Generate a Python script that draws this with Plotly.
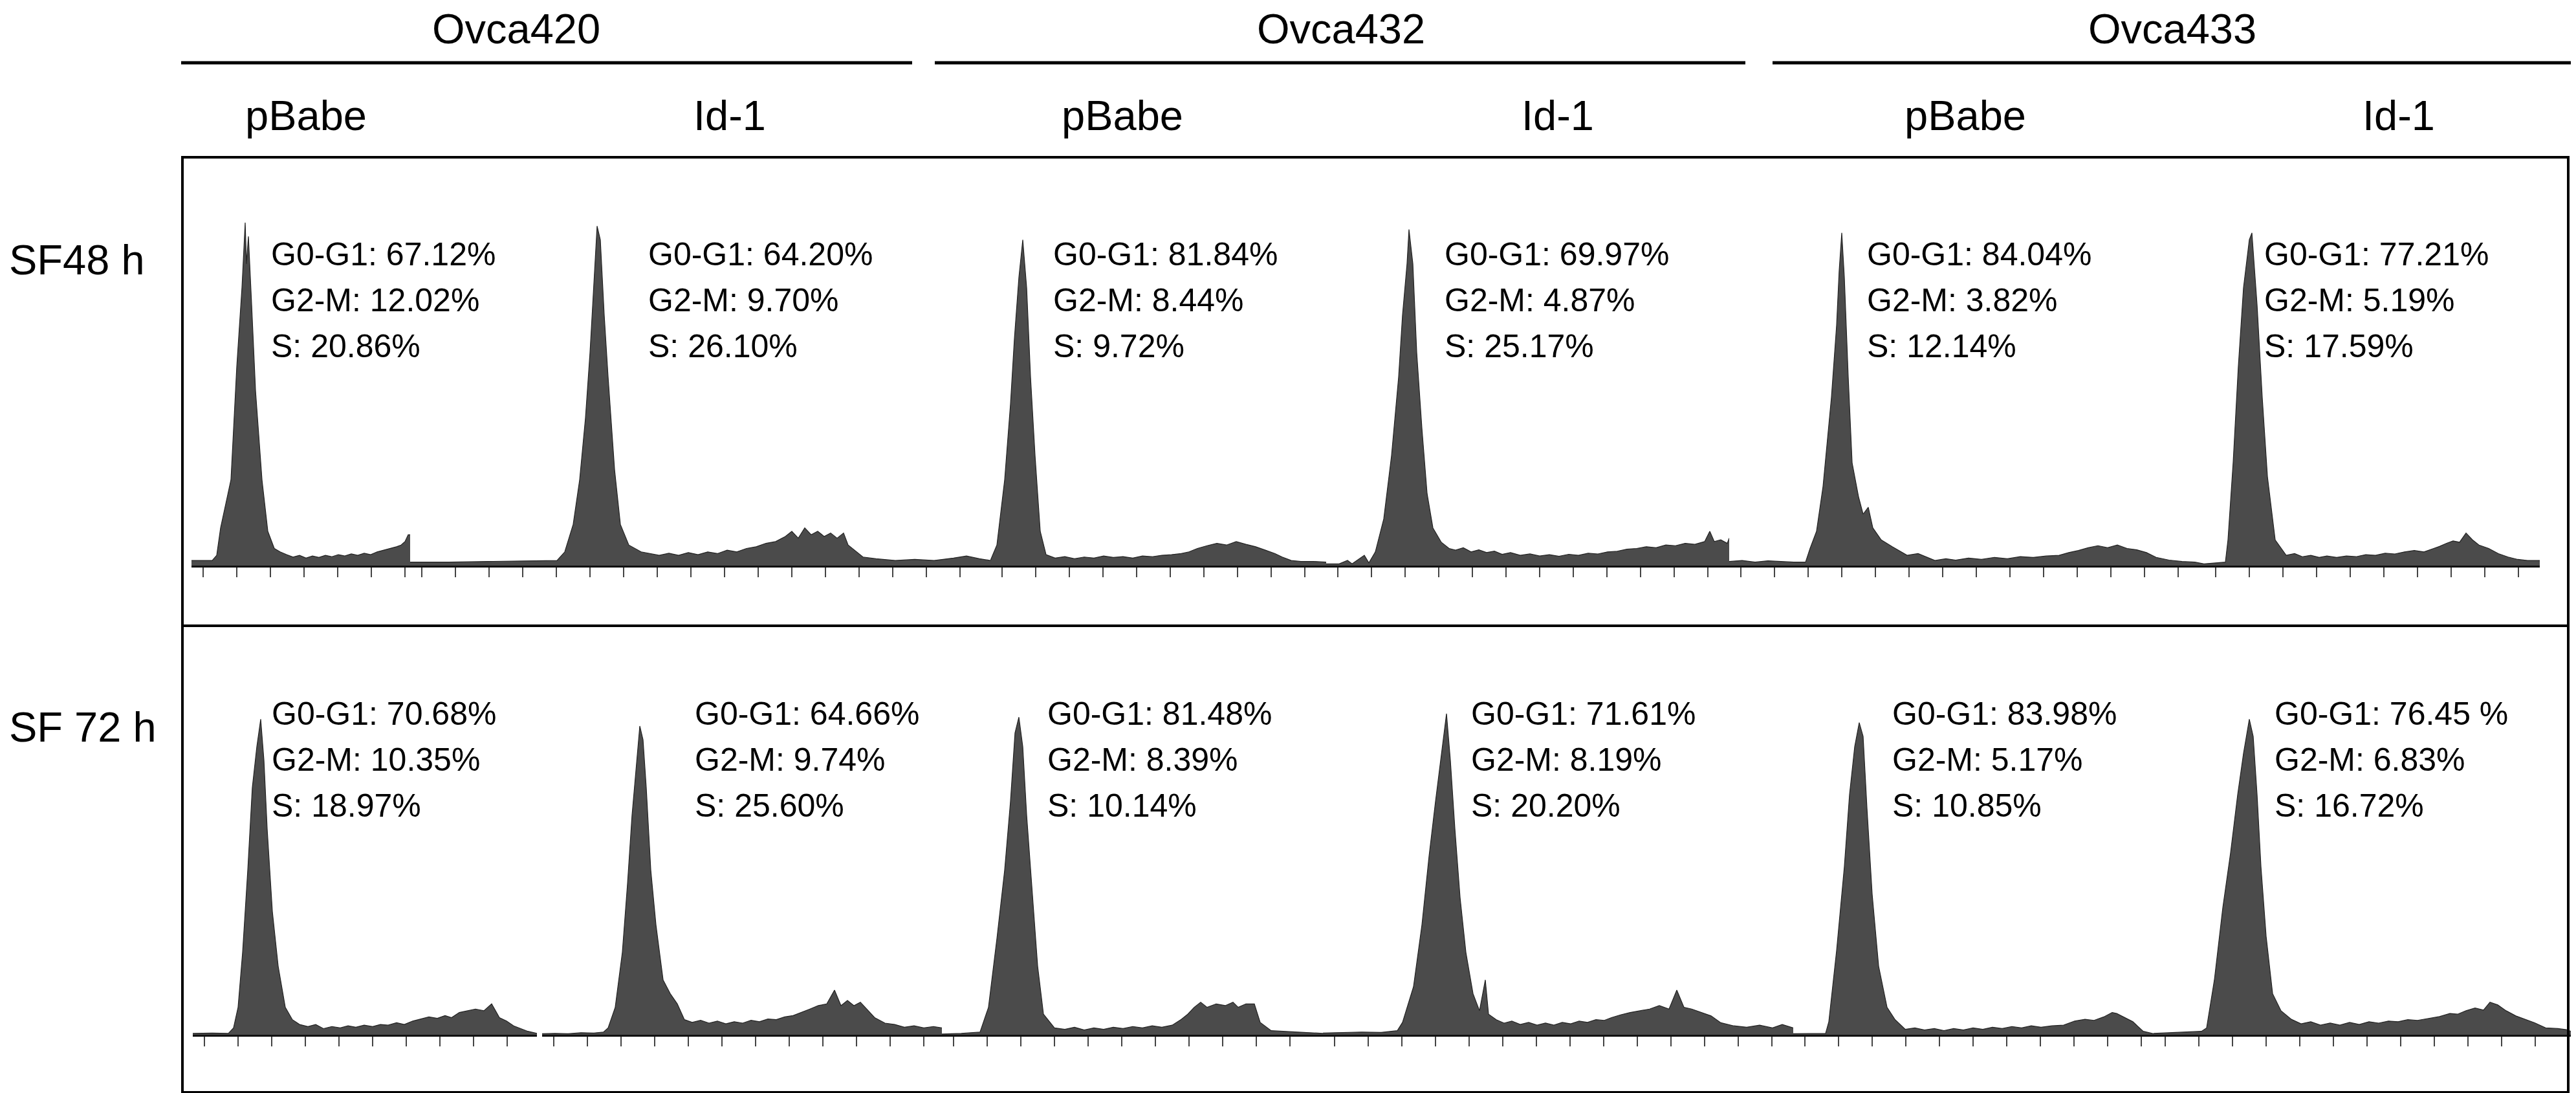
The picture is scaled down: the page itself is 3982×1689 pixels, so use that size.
import plotly.graph_objects as go

# ---------------- data (DNA-content channel vs. relative cell count) ----------------
cell_lines = ["Ovca420", "Ovca432", "Ovca433"]
constructs = ["pBabe", "Id-1"]
time_points = ["SF48 h", "SF 72 h"]

# phase percentages, order: Ovca420 pBabe, Ovca420 Id-1, Ovca432 pBabe, Ovca432 Id-1, Ovca433 pBabe, Ovca433 Id-1
g0g1_48 = ["67.12%", "64.20%", "81.84%", "69.97%", "84.04%", "77.21%"]
g2m_48 = ["12.02%", "9.70%", "8.44%", "4.87%", "3.82%", "5.19%"]
s_48 = ["20.86%", "26.10%", "9.72%", "25.17%", "12.14%", "17.59%"]
g0g1_72 = ["70.68%", "64.66%", "81.48%", "71.61%", "83.98%", "76.45 %"]
g2m_72 = ["10.35%", "9.74%", "8.39%", "8.19%", "5.17%", "6.83%"]
s_72 = ["18.97%", "25.60%", "10.14%", "20.20%", "10.85%", "16.72%"]

# histograms, 48 h
h420_pb_48_ch = [0, 32, 39, 45, 61, 70, 78, 81, 83, 85, 88, 93, 99, 109, 118, 128, 137, 147, 157, 167, 177, 187, 197, 207, 217,
                 227, 237, 247, 257, 267, 277, 287, 297, 307, 317, 324, 330, 335, 338]
h420_pb_48_ct = [1.5, 1.5, 3, 11, 25, 58, 81, 92, 100, 88, 96, 76, 51, 25, 10, 5, 4, 3.2, 2.5, 3, 2.2, 2.8, 2.4, 3, 2.6,
                 3.2, 2.8, 3.4, 3, 3.6, 3.2, 4, 4.5, 5, 5.5, 6, 7, 9, 9]

h420_id_48_ch = [0, 60, 120, 180, 224, 227, 239, 252, 262, 271, 278, 284, 289, 294, 300, 306, 316, 325, 338, 357, 370, 385,
                 400, 415, 430, 445, 460, 475, 490, 505, 520, 535, 550, 565, 580, 590, 600, 610, 620, 630, 640, 650, 660,
                 670, 677, 690, 700, 720, 750, 780, 810, 840, 860, 880, 897]
h420_id_48_ct = [1, 1, 1.2, 1.3, 1.5, 1.5, 4, 12, 25, 43, 62, 81, 99, 95, 73, 55, 28, 12, 6, 4, 3.5, 3,
                 3.6, 3, 3.8, 3.2, 4, 3.5, 4.5, 4, 5, 5.5, 6.5, 7, 8.5, 10, 8, 11, 9, 10, 8.5, 9.5, 8,
                 9.5, 6, 4, 2.5, 2, 1.5, 1.8, 1.5, 2.2, 2.8, 2, 1.5]

h432_pb_48_ch = [0, 10, 22, 31, 37, 44, 50, 56, 62, 69, 77, 86, 100, 115, 130, 145, 160, 175, 190, 205, 220, 235, 250, 265,
                 280, 295, 307, 320, 335, 350, 365, 380, 395, 410, 425, 440, 451, 465, 480, 500, 519]
h432_pb_48_ct = [1.5, 6, 25, 47, 66, 84, 95, 81, 55, 32, 10, 3.2, 2.2, 2.6, 2, 2.5, 2.2, 2.8, 2.4, 2.6, 2.2, 2.8, 2.6, 3,
                 3.2, 3.5, 4, 5, 5.8, 6.5, 6, 7, 6.2, 5.5, 4.5, 3.5, 2.5, 1.5, 1.2, 1.2, 1]

h432_id_48_ch = [0, 20, 33, 40, 59, 66, 76, 89, 101, 112, 118, 125, 128, 134, 140, 148, 156, 165, 178, 190, 200, 212, 224,
                 236, 248, 260, 272, 285, 300, 315, 330, 345, 360, 375, 390, 405, 420, 435, 450, 465, 480, 495, 510, 525,
                 540, 555, 570, 585, 593, 600, 610, 620, 623]
h432_id_48_ct = [0.5, 0.5, 1.5, 0.5, 3, 0.8, 4, 13.6, 32, 55, 73, 88, 98, 88, 62, 40, 21, 11, 6.8, 5, 4.5, 5.2, 4,
                 4.6, 3.8, 4.2, 3.3, 3.8, 3, 3.4, 2.8, 3.2, 2.7, 3.3, 3, 3.6, 3.4, 4, 4.2, 4.8, 5, 5.5, 5.2, 6,
                 5.8, 6.5, 6.2, 7, 10, 7, 7.5, 6.5, 8]

h433_pb_48_ch = [0, 20, 40, 60, 80, 100, 118, 125, 135, 145, 158, 166, 170, 174, 178, 184, 190, 200, 207, 215, 222, 235,
                 252, 275, 292, 318, 335, 350, 370, 390, 410, 430, 450, 470, 490, 510, 525, 540, 555, 570, 585, 600,
                 615, 630, 645, 660, 680, 700, 720, 734]
h433_pb_48_ct = [1.2, 1.5, 1, 1.4, 1.2, 1, 1, 5, 10, 23, 49, 70, 86, 97, 84, 55, 30, 20, 15, 17, 11, 7.5,
                 5.5, 3, 3.5, 1.5, 2, 1.6, 2.2, 1.8, 2.4, 2, 2.6, 2.4, 2.8, 3, 3.8, 4.4, 5.2, 5.8, 5.2, 6,
                 5, 4.6, 3.8, 2.4, 1.6, 1.2, 1, 0.5]

h433_id_48_ch = [0, 20, 33, 37, 45, 53, 61, 70, 74, 82, 90, 98, 110, 127, 140, 152, 165, 178, 190, 205, 220, 235, 250,
                 265, 280, 295, 310, 325, 340, 355, 364, 375, 385, 395, 405, 415, 425, 440, 455, 470, 485, 500, 519]
h433_id_48_ct = [0.5, 0.8, 1, 7.5, 30, 58, 81, 95, 97, 76, 49, 26, 7.5, 3, 3.5, 2.6, 3, 2.4, 2.8, 2.4, 2.8, 2.6, 3.2,
                 3, 3.6, 3.4, 4, 4.4, 4, 5, 5.6, 6.5, 7.2, 6.8, 9.5, 7.5, 6, 5, 3.5, 2.5, 1.8, 1.5, 1.5]

# histograms, 72 h
h420_pb_72_ch = [0, 30, 55, 63, 70, 77, 85, 92, 99, 105, 110, 115, 123, 132, 143, 154, 165, 178, 190, 202, 215, 228, 240,
                 252, 265, 278, 290, 302, 315, 327, 340, 352, 365, 378, 390, 400, 412, 425, 437, 450, 462, 474, 485,
                 496, 510, 518, 532]
h420_pb_72_ct = [0.4, 0.5, 0.4, 2, 8, 24, 48, 72, 84, 92, 80, 60, 36, 20, 8, 4.4, 3, 2.4, 3, 1.8, 2.4, 2, 2.6,
                 2.2, 2.8, 2.4, 3, 2.8, 3.5, 3, 4, 4.6, 5.2, 4.8, 5.6, 5, 6.5, 7, 7.5, 7, 9, 5, 4,
                 2.6, 1.5, 1, 0.4]

h420_id_72_ch = [0, 20, 40, 60, 80, 95, 102, 113, 124, 132, 139, 146, 151, 156, 161, 168, 176, 187, 198, 209, 220, 232,
                 245, 258, 271, 284, 297, 310, 323, 336, 349, 362, 375, 388, 401, 414, 427, 440, 452, 462, 472, 482,
                 492, 502, 514, 530, 545, 560, 575, 590, 605, 618]
h420_id_72_ct = [0.3, 0.4, 0.3, 0.6, 0.5, 0.8, 2, 8, 24, 44, 64, 80, 90, 86, 72, 48, 32, 16, 12, 9, 4.4, 3.6,
                 4.2, 3.4, 4, 3.2, 3.8, 3.4, 4.2, 3.8, 4.6, 4.4, 5.2, 5.6, 6.5, 7.5, 8.5, 9, 13, 8.5, 10, 8.5,
                 9.5, 7.5, 5, 3.4, 3, 2.2, 2.6, 2, 2.4, 2]

h432_pb_72_ch = [0, 30, 59, 72, 85, 97, 106, 113, 119, 125, 131, 140, 148, 157, 174, 190, 205, 220, 235, 250, 265, 280,
                 295, 310, 325, 340, 356, 370, 380, 390, 400, 410, 424, 438, 450, 458, 470, 483, 492, 509, 530, 555,
                 575, 589]
h432_pb_72_ct = [0.2, 0.4, 0.8, 8, 28, 48, 68, 88, 92.6, 84, 64, 40, 20, 6, 2, 1.6, 2.2, 1.4, 2, 1.6, 2.2, 1.8,
                 2.4, 2, 2.6, 2.2, 2.8, 4.5, 6, 8, 9.5, 8, 9, 8.5, 9.5, 8, 9, 9, 3.6, 1.2, 1, 0.8,
                 0.6, 0.4]

h432_id_72_ch = [0, 30, 60, 90, 115, 123, 140, 153, 164, 174, 185, 191, 197, 204, 212, 221, 232, 242, 251, 256, 268,
                 280, 292, 305, 318, 331, 344, 357, 370, 383, 396, 409, 422, 435, 446, 460, 475, 490, 505, 520, 535,
                 547, 558, 570, 585, 600, 615, 635, 655, 675, 695, 710, 727]
h432_id_72_ct = [0.5, 0.6, 0.8, 0.7, 1.2, 3.6, 14, 32, 52, 68, 84, 93.6, 80, 60, 40, 24, 12, 7, 16, 6, 4.4,
                 3.4, 4, 3, 3.6, 2.8, 3.4, 2.8, 3.6, 3.2, 4, 3.6, 4.4, 4.2, 5, 5.8, 6.5, 7, 7.5, 8.5, 7.5,
                 13, 8, 7.5, 6.5, 5.5, 3.5, 2.6, 2.2, 2.8, 2, 3, 2]

h433_pb_72_ch = [0, 30, 50, 55, 67, 79, 87, 95, 102, 108, 114, 122, 132, 145, 157, 173, 188, 203, 218, 233, 248, 263,
                 278, 293, 308, 323, 338, 353, 368, 383, 400, 418, 435, 451, 465, 480, 493, 500, 512, 525, 541, 557]
h433_pb_72_ct = [0.3, 0.3, 0.4, 3.8, 24.5, 49, 70, 84, 91, 87, 66, 41, 20, 8, 4.5, 1.6, 2, 1.4, 1.8, 1.2, 1.8, 1.4,
                 2, 1.6, 2.2, 1.8, 2.4, 2, 2.6, 2.2, 2.6, 2.8, 4, 4.5, 4.2, 5.2, 6.5, 6.2, 5, 3.8, 1, 0.3]

h433_id_72_ch = [0, 25, 50, 74, 82, 94, 107, 119, 130, 139, 148, 154, 160, 166, 174, 184, 197, 213, 228, 243, 258, 273,
                 288, 303, 318, 333, 348, 363, 378, 393, 408, 425, 442, 458, 470, 483, 497, 510, 520, 532, 545, 560,
                 575, 589, 606, 625, 638, 645]
h433_id_72_ct = [0.4, 0.6, 0.8, 1, 2, 16, 37, 53, 70, 82, 92, 87, 70, 49, 28.7, 12, 7, 4.5, 3.2, 3.8, 2.8, 3.4,
                 2.8, 3.6, 3, 3.8, 3.4, 4, 3.8, 4.4, 4.2, 4.8, 5.3, 6.2, 6, 7, 7.8, 7.2, 9.5, 8.7, 7, 5.5,
                 4.5, 3.5, 2, 1.8, 1.5, 1]

hist_48 = [(h420_pb_48_ch, h420_pb_48_ct), (h420_id_48_ch, h420_id_48_ct), (h432_pb_48_ch, h432_pb_48_ct),
           (h432_id_48_ch, h432_id_48_ct), (h433_pb_48_ch, h433_pb_48_ct), (h433_id_48_ch, h433_id_48_ct)]
hist_72 = [(h420_pb_72_ch, h420_pb_72_ct), (h420_id_72_ch, h420_id_72_ct), (h432_pb_72_ch, h432_pb_72_ct),
           (h432_id_72_ch, h432_id_72_ct), (h433_pb_72_ch, h433_pb_72_ct), (h433_id_72_ch, h433_id_72_ct)]

# ---------------- layout geometry (pixels of the 3982 x 1689 page) ----------------
W, H = 3982, 1689
def px(x): return x / W
def py(y): return 1 - y / H

panel_x_48 = [(288, 626), (626, 1523), (1523, 2042), (2042, 2665), (2665, 3399), (3399, 3918)]
panel_x_72 = [(290, 822), (830, 1448), (1448, 2037), (2037, 2764), (2764, 3321), (3321, 3966)]
row_base = [866, 1591]
row_height = 530
text_x_48 = [409, 992, 1618, 2223, 2876, 3490]
text_x_72 = [410, 1064, 1609, 2264, 2915, 3506]
text_y0 = [385, 1095]
line_gap = 71

FONT = "Liberation Sans, Arial, Helvetica, sans-serif"
FILL = "#4b4b4b"

fig = go.Figure()
layout = dict(width=W, height=H, margin=dict(l=0, r=0, t=0, b=0), paper_bgcolor="white",
              plot_bgcolor="rgba(0,0,0,0)", showlegend=False)

k = 0
for r, (hists, spans) in enumerate([(hist_48, panel_x_48), (hist_72, panel_x_72)]):
    for (ch, ct), (x0, x1) in zip(hists, spans):
        k += 1
        xa = "x" if k == 1 else f"x{k}"
        ya = "y" if k == 1 else f"y{k}"
        fig.add_trace(go.Scatter(x=ch, y=ct, xaxis=xa, yaxis=ya, mode="lines",
                                 line=dict(color="#222222", width=1.2), fill="tozeroy",
                                 fillcolor=FILL, hoverinfo="skip"))
        base = row_base[r]
        layout["xaxis" if k == 1 else f"xaxis{k}"] = dict(
            domain=[px(x0), px(x1)], range=[0, x1 - x0], anchor=ya,
            showgrid=False, zeroline=False, showline=True, linecolor="#111111", linewidth=3,
            ticks="outside", ticklen=15, tickwidth=1.5, tickcolor="#444444",
            tick0=18, dtick=52, showticklabels=False, fixedrange=True)
        layout["yaxis" if k == 1 else f"yaxis{k}"] = dict(
            domain=[py(base), py(base - row_height)], range=[0, 100], anchor=xa,
            visible=False, fixedrange=True)

fig.update_layout(**layout)

# frame, divider and header rules
shapes = [
    dict(type="rect", xref="paper", yref="paper", x0=px(274), x1=px(3962), y0=py(1680), y1=py(235),
         line=dict(color="black", width=4)),
    dict(type="line", xref="paper", yref="paper", x0=px(274), x1=px(3962), y0=py(959), y1=py(959),
         line=dict(color="black", width=4)),
]
for a, b in [(272, 1402), (1437, 2690), (2732, 3975)]:
    shapes.append(dict(type="line", xref="paper", yref="paper", x0=px(a), x1=px(b), y0=py(89), y1=py(89),
                       line=dict(color="black", width=5)))
fig.update_layout(shapes=shapes)

ann = []
for name, cx in zip(cell_lines, [790, 2065, 3350]):
    ann.append(dict(x=px(cx), y=py(36), text=name, xanchor="center", yanchor="middle"))
for i, cx in enumerate([465, 1120, 1727, 2400, 3030, 3700]):
    ann.append(dict(x=px(cx), y=py(170), text=constructs[i % 2], xanchor="center", yanchor="middle"))
for lab, yy in zip(time_points, [394, 1115]):
    ann.append(dict(x=px(4), y=py(yy), text=lab, xanchor="left", yanchor="middle"))
header = [dict(a, xref="paper", yref="paper", showarrow=False, font=dict(family=FONT, size=65, color="black"))
          for a in ann]

small = []
for r, (xs, g1, g2, s) in enumerate([(text_x_48, g0g1_48, g2m_48, s_48), (text_x_72, g0g1_72, g2m_72, s_72)]):
    for i, x in enumerate(xs):
        for j, t in enumerate([f"G0-G1: {g1[i]}", f"G2-M: {g2[i]}", f"S: {s[i]}"]):
            small.append(dict(x=px(x), y=py(text_y0[r] + j * line_gap), text=t, xref="paper", yref="paper",
                              xanchor="left", yanchor="middle", showarrow=False,
                              font=dict(family=FONT, size=50, color="black")))
fig.update_layout(annotations=header + small)

fig.write_html("out.html")
